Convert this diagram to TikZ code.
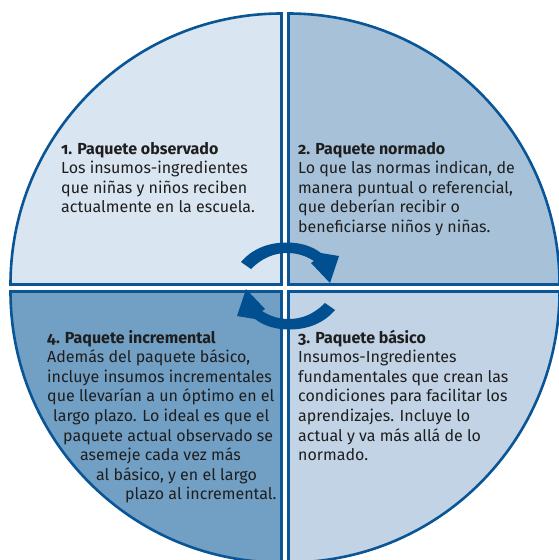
\documentclass[tikz,border=0pt]{standalone}
\usepackage{fontspec}
\setmainfont{Fira Sans}[Numbers=OldStyle]
\definecolor{qonec}{HTML}{D9E5F0}
\definecolor{qtwoc}{HTML}{A7C2D8}
\definecolor{qthreec}{HTML}{C1D3E5}
\definecolor{qfourc}{HTML}{729FC4}
\definecolor{bordc}{HTML}{0A5596}
\definecolor{arrc}{HTML}{005091}
\definecolor{txtc}{HTML}{1E1E1E}
\begin{document}
\begin{tikzpicture}[x=1pt,y=-1pt,
  quad/.style={draw=bordc, line width=2.6pt, line join=miter},
  txt/.style={anchor=base west, inner sep=0pt, text=txtc},
  arr/.style={fill=arrc, draw=none}]
\useasboundingbox (0,0) rectangle (558,560);
\fill[white] (0,0) rectangle (558,560);
% quadrants
\path[quad, fill=qonec] (281.5,284.5) -- ++(180:271) arc[start angle=180, end angle=270, radius=271] -- cycle;
\path[quad, fill=qtwoc] (288.5,284.5) -- ++(270:271) arc[start angle=270, end angle=360, radius=271] -- cycle;
\path[quad, fill=qthreec] (288.5,291.5) -- ++(0:271) arc[start angle=0, end angle=90, radius=271] -- cycle;
\path[quad, fill=qfourc] (281.5,291.5) -- ++(90:271) arc[start angle=90, end angle=180, radius=271] -- cycle;
% cycle arrows
\def\arrowshape{(241,262) -- (251,269) .. controls (262,258) and (274,253) .. (287,253) .. controls (298,253) and (306,256) .. (314,261) -- (311,263) -- (330,283) -- (339,256) -- (321,253) .. controls (312,246) and (300,242.5) .. (287,242.5) .. controls (268,242.5) and (252,249) .. (241,262) -- cycle}
\fill[arr] \arrowshape;
\fill[arr, rotate around={180:(288,286)}] \arrowshape;
% texts
\fontsize{16}{19.6}\selectfont
\node[txt] (t1) at (61,154) {\begin{tabular}[t]{@{}l@{}}\textbf{1. Paquete observado}\\Los insumos-ingredientes\\que niñas y niños reciben\\actualmente en la escuela.\end{tabular}};
\node[txt] (t2) at (298,154) {\begin{tabular}[t]{@{}l@{}}\textbf{2. Paquete normado}\\Lo que las normas indican, de\\manera puntual o referencial,\\que deberían recibir o\\beneficiarse niños y niñas.\end{tabular}};
\node[txt] (t3) at (298,343) {\begin{tabular}[t]{@{}l@{}}\textbf{3. Paquete básico}\\Insumos-Ingredientes\\fundamentales que crean las\\condiciones para facilitar los\\aprendizajes. Incluye lo\\actual y va más allá de lo\\normado.\end{tabular}};
\node[txt] (t4) at (47,343) {\begin{tabular}[t]{@{}l@{}}\textbf{4. Paquete incremental}\\Además del paquete básico,\\incluye insumos incrementales\\que llevarían a un óptimo en el\\\hspace*{6pt}largo plazo. Lo ideal es que el\\\hspace*{16pt}paquete actual observado se\\\hspace*{33pt}asemeje cada vez más\\\hspace*{49pt}al básico, y en el largo\\\hspace*{78pt}plazo al incremental.\end{tabular}};
\end{tikzpicture}
\end{document}
